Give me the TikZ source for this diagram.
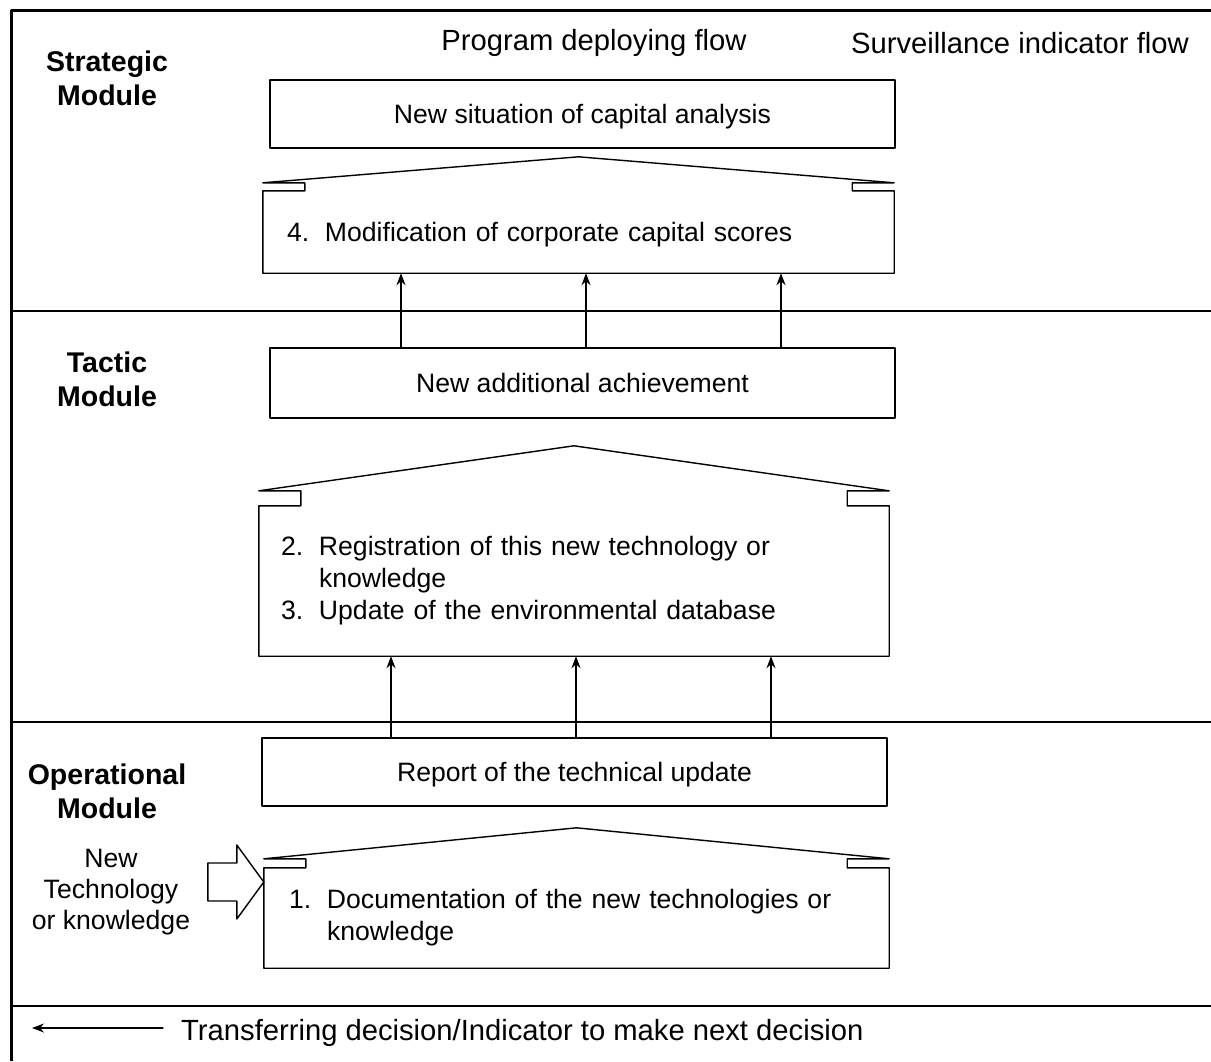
\documentclass[tikz,border=0pt]{standalone}
\usepackage{fontspec}
\setmainfont{Liberation Sans}
\usetikzlibrary{arrows.meta}
\newcommand\itm[1]{\makebox[38pt][l]{#1}}
\begin{document}
\begin{tikzpicture}[line cap=round,line join=round,>={Stealth[length=12pt,width=9pt]},x=1pt,y=-1pt,
  box/.style={draw,line width=1.4pt,minimum width=625pt,minimum height=68pt,inner sep=0pt,text depth=0pt,font=\fontsize{26.6}{32}\selectfont},
  house/.style={inner ysep=0pt,align=left,font=\fontsize{26.6}{32}\selectfont},
  module/.style={align=center,inner sep=0pt,font=\bfseries\fontsize{28.5}{34}\selectfont},
  flow/.style={inner sep=0pt,font=\fontsize{29.2}{34}\selectfont},
  arr/.style={->,line width=1.3pt}]
\useasboundingbox (0,0) rectangle (1211,1061);
\draw[line width=3pt,line cap=butt] (1211,10) -- (11,10) -- (11,1061);
\foreach \y in {311,722,1006} \draw[line width=2pt,line cap=butt] (11,\y) -- (1211,\y);
\node[flow] (prog) at (594,43) {Program deploying flow};
\node[flow,anchor=west] (surv) at (851,43) {Surveillance indicator flow};
\node[module] (strat) at (107,78) {Strategic\\Module};
\node[module] (tact) at (107,379) {Tactic\\Module};
\node[module] (oper) at (107,791) {Operational\\Module};
\node[align=center,inner sep=0pt,font=\fontsize{26.6}{31}\selectfont] (newtech) at (111,892) {New\\Technology\\or knowledge};
\node[box] (capital) at (582.5,114) {New situation of capital analysis};
\node[house,minimum height=82pt,inner xsep=24pt,text width=583pt,text depth=0pt] (m4) at (578.5,232) {\itm{4.}Modification of corporate capital scores};
\node[box,minimum height=70pt] (achieve) at (582.5,383) {New additional achievement};
\node[house,minimum height=150pt,inner xsep=22pt,text width=586pt] (m23) at (574,581) {\itm{2.}Registration of this new technology or\\\itm{}knowledge\\\itm{3.}Update of the environmental database};
\node[box] (report) at (574.5,772) {Report of the technical update};
\node[house,minimum height=100pt,inner xsep=25pt,text width=575pt] (m1) at (576.5,918) {\itm{1.}Documentation of the new technologies or\\\itm{}knowledge};
\foreach \h/\d/\a in {m4/8/34,m23/15/60,m1/9/40}
  \draw[line width=1.4pt] (\h.north west) -- ([xshift=42pt]\h.north west) -- ([xshift=42pt,yshift=\d pt]\h.north west)
    -- ([yshift=\d pt]\h.north west) -- ([yshift=\a pt]\h.north) -- ([yshift=\d pt]\h.north east)
    -- ([xshift=-42pt,yshift=\d pt]\h.north east) -- ([xshift=-42pt]\h.north east) -- (\h.north east)
    -- (\h.south east) -- (\h.south west) -- cycle;
\foreach \x [count=\i] in {401,586,781} \coordinate (a\i) at (\x,0);
\foreach \x [count=\i] in {391,576,771} \coordinate (b\i) at (\x,0);
\foreach \i in {1,2,3} {
  \draw[arr] (achieve.north -| a\i) -- (m4.south -| a\i);
  \draw[arr] (report.north -| b\i) -- (m23.south -| b\i);
}
\coordinate (tip) at ([yshift=36pt]m1.west);
\draw[line width=1.4pt] (tip) -- ++(-27,-37) -- ++(0,18) -- ++(-29,0) -- ++(0,38) -- ++(29,0) -- ++(0,18) -- cycle;
\node[flow,anchor=west] (legend) at (181,1033) {Transferring decision/Indicator to make next decision};
\draw[arr] ([xshift=-18pt,yshift=5pt]legend.west) -- ++(-131,0);
\end{tikzpicture}
\end{document}
